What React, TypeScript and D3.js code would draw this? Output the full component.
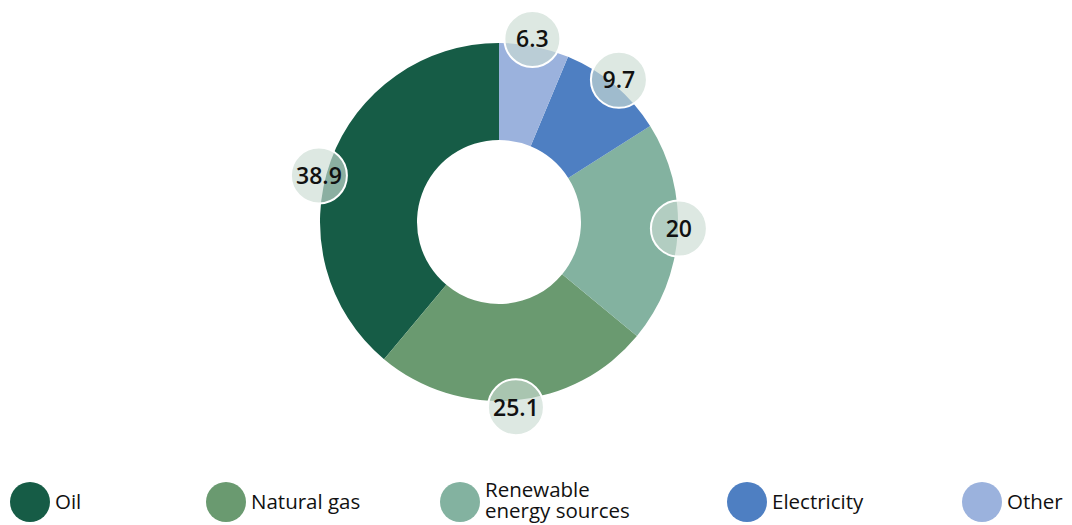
import React from 'react';
import * as d3 from 'd3';

const CATEGORIES = ['Oil', 'Natural gas', 'Renewable energy sources', 'Electricity', 'Other'];
const VALUES = [38.9, 25.1, 20, 9.7, 6.3];
const COLORS = ['#165c46', '#6a9a70', '#83b2a0', '#4e7fc2', '#9bb2dd'];
// small angular nudge (degrees) so the big slice's bubble clears its neighbour
const LABEL_NUDGE = [-5.5, 0, -1.5, 0, -1];

const LEGEND_X = [30, 226, 460, 747, 982];

export default function App() {
  const width = 1072;
  const height = 525;
  const cx = 499;
  const cy = 222;
  const outerR = 179;
  const innerR = 82;

  // slices run counter-clockwise from 12 o'clock in legend order
  const pie = d3.pie<number>().sort(null).startAngle(0).endAngle(-2 * Math.PI);
  const arcs = pie(VALUES);
  const arc = d3.arc<d3.PieArcDatum<number>>().innerRadius(innerR).outerRadius(outerR);

  const labelR = 186;
  const font = "'Open Sans', sans-serif";

  return (
    <svg width={width} height={height} style={{ position: 'absolute', left: 0, top: 0 }}>
      <g transform={`translate(${cx},${cy})`}>
        {arcs.map((a, i) => (
          <path key={CATEGORIES[i]} d={arc(a) || ''} fill={COLORS[i]} />
        ))}
        {arcs.map((a, i) => {
          const mid = (a.startAngle + a.endAngle) / 2 + (LABEL_NUDGE[i] * Math.PI) / 180;
          const r = i === 2 ? 180 : labelR;
          const x = r * Math.sin(mid);
          const y = -r * Math.cos(mid);
          return (
            <g key={'l' + i} transform={`translate(${x},${y})`}>
              <circle r={28} fill="rgb(203,220,211)" fillOpacity={0.65} stroke="#fff" strokeWidth={2} />
              <text
                textAnchor="middle"
                dy="0.36em"
                fontFamily={font}
                fontWeight={600}
                fontSize={23}
                fill="#111"
              >
                {VALUES[i]}
              </text>
            </g>
          );
        })}
      </g>
      {CATEGORIES.map((c, i) => {
        const lx = LEGEND_X[i];
        const ly = 502;
        const lines = c === 'Renewable energy sources' ? ['Renewable', 'energy sources'] : [c];
        return (
          <g key={'lg' + i}>
            <circle cx={lx} cy={ly} r={20} fill={COLORS[i]} />
            {lines.length === 1 ? (
              <text x={lx + 25} y={ly} dy="0.36em" fontFamily={font} fontSize={20.5} fill="#111">
                {lines[0]}
              </text>
            ) : (
              lines.map((t, k) => (
                <text
                  key={t}
                  x={lx + 25}
                  y={ly - 5 + k * 21}
                  fontFamily={font}
                  fontSize={20.5}
                  fill="#111"
                >
                  {t}
                </text>
              ))
            )}
          </g>
        );
      })}
    </svg>
  );
}
